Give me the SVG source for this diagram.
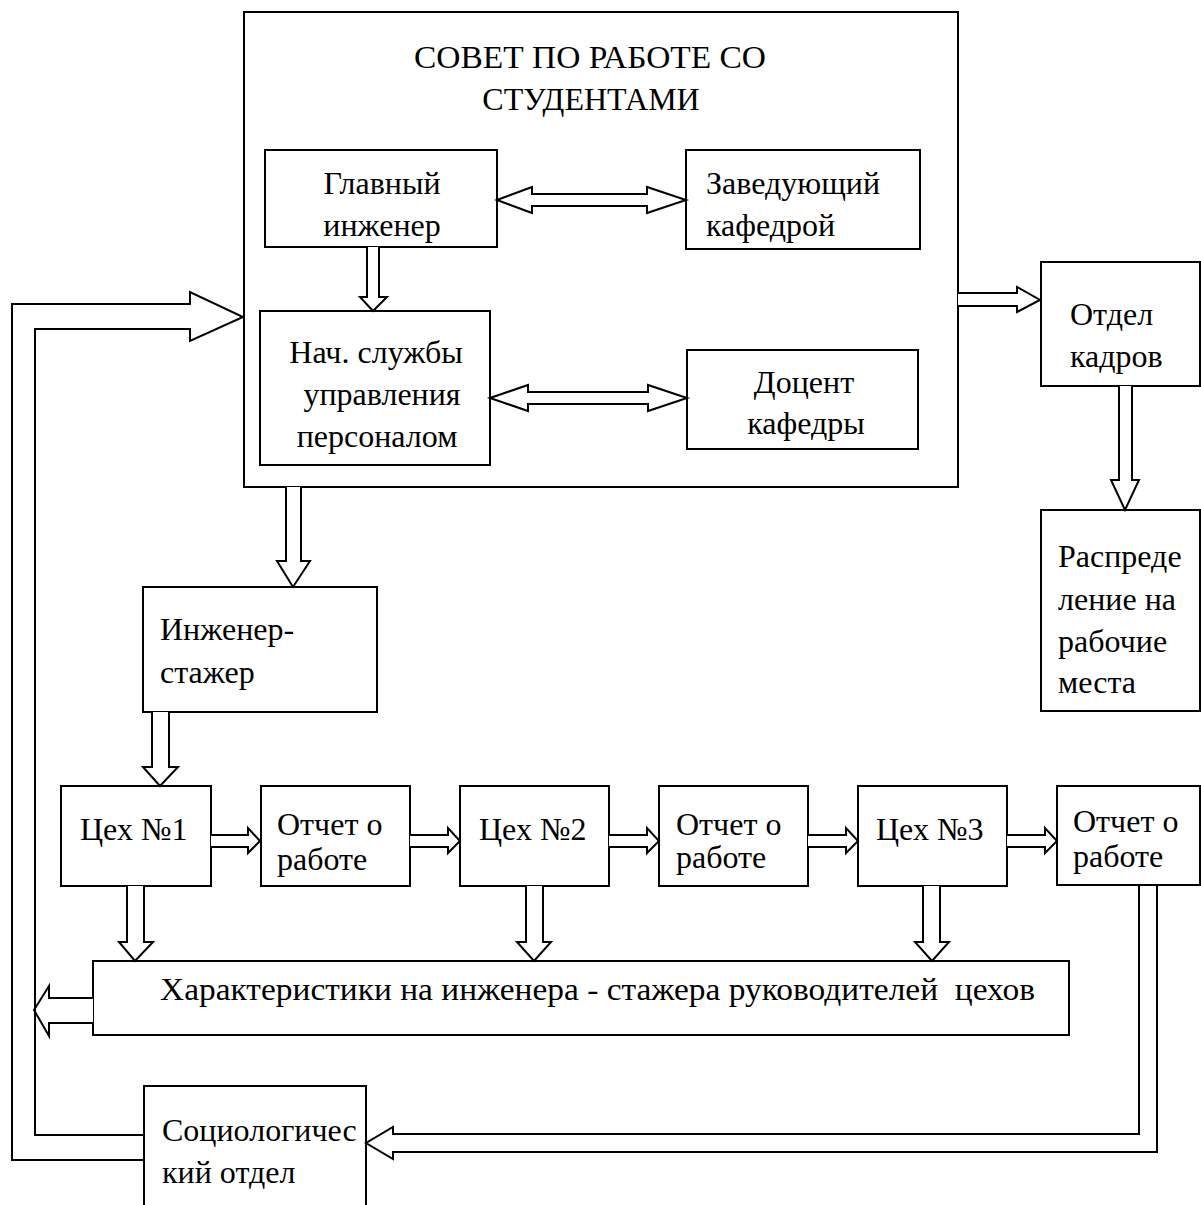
<svg xmlns="http://www.w3.org/2000/svg" width="1201" height="1205" viewBox="0 0 1201 1205">
  <style>
    .box { fill: #fff; stroke: #000; stroke-width: 2; }
    .arr { fill: #fff; stroke: #000; stroke-width: 2; stroke-linejoin: miter; }
    .ln { fill: none; stroke: #000; stroke-width: 2; }
    .t { font-family: 'Liberation Serif', Tinos, 'Noto Serif', 'DejaVu Serif', 'Times New Roman', Times, serif; font-size: 32px; fill: #000; }
    .c { text-anchor: middle; }
  </style>
  <rect width="1201" height="1205" fill="#fff"/>

  <!-- council block with nested members -->
  <g id="council">
    <rect class="box" x="244" y="12" width="714" height="475"/>
    <text class="t c" x="590" y="68" textLength="352" lengthAdjust="spacingAndGlyphs">СОВЕТ ПО РАБОТЕ СО</text>
    <text class="t c" x="591" y="110">СТУДЕНТАМИ</text>
  </g>
  <g id="chief-engineer">
    <rect class="box" x="265" y="150" width="232" height="97"/>
    <text class="t c" x="382" y="194">Главный</text>
    <text class="t c" x="382" y="236">инженер</text>
  </g>
  <g id="head-of-chair">
    <rect class="box" x="686" y="150" width="234" height="99"/>
    <text class="t" x="706" y="194">Заведующий</text>
    <text class="t" x="706" y="236">кафедрой</text>
  </g>
  <g id="hr-service">
    <rect class="box" x="260" y="311" width="230" height="154"/>
    <text class="t c" x="376" y="363">Нач. службы</text>
    <text class="t c" x="382" y="405">управления</text>
    <text class="t c" x="377" y="447">персоналом</text>
  </g>
  <g id="docent">
    <rect class="box" x="687" y="350" width="231" height="99"/>
    <text class="t c" x="804" y="393">Доцент</text>
    <text class="t c" x="806" y="434">кафедры</text>
  </g>

  <g id="personnel">
    <rect class="box" x="1041" y="262" width="159" height="124"/>
    <text class="t" x="1070" y="325">Отдел</text>
    <text class="t" x="1070" y="367">кадров</text>
  </g>
  <g id="placement">
    <rect class="box" x="1041" y="510" width="159" height="201"/>
    <text class="t" x="1058" y="567">Распреде</text>
    <text class="t" x="1058" y="610">ление на</text>
    <text class="t" x="1058" y="652">рабочие</text>
    <text class="t" x="1058" y="693">места</text>
  </g>

  <g id="trainee">
    <rect class="box" x="143" y="587" width="234" height="125"/>
    <text class="t" x="160" y="640">Инженер-</text>
    <text class="t" x="160" y="683">стажер</text>
  </g>

  <g id="shop-1">
    <rect class="box" x="61" y="786" width="150" height="100"/>
    <text class="t" x="80" y="840">Цех №1</text>
  </g>
  <g id="report-1">
    <rect class="box" x="261" y="786" width="149" height="100"/>
    <text class="t" x="277" y="835">Отчет о</text>
    <text class="t" x="277" y="870">работе</text>
  </g>
  <g id="shop-2">
    <rect class="box" x="460" y="786" width="149" height="100"/>
    <text class="t" x="479" y="840">Цех №2</text>
  </g>
  <g id="report-2">
    <rect class="box" x="659" y="786" width="149" height="100"/>
    <text class="t" x="676" y="835">Отчет о</text>
    <text class="t" x="676" y="868">работе</text>
  </g>
  <g id="shop-3">
    <rect class="box" x="858" y="786" width="149" height="100"/>
    <text class="t" x="876" y="840">Цех №3</text>
  </g>
  <g id="report-3">
    <rect class="box" x="1057" y="786" width="143" height="99"/>
    <text class="t" x="1073" y="832">Отчет о</text>
    <text class="t" x="1073" y="867">работе</text>
  </g>

  <g id="assessments">
    <rect class="box" x="93" y="961" width="976" height="74"/>
    <text class="t" x="160" y="1000" textLength="875" lengthAdjust="spacingAndGlyphs">Характеристики на инженера - стажера руководителей&#160; цехов</text>
  </g>

  <g id="sociology">
    <rect class="box" x="144" y="1086" width="222" height="130"/>
    <text class="t" x="162" y="1141">Социологичес</text>
    <text class="t" x="162" y="1183">кий отдел</text>
  </g>

  <!-- hollow block arrows -->
  <g id="connectors">
    <!-- council -> personnel department -->
    <path class="arr" d="M958,293 H1017 V287 L1040,300 L1017,312 V306 H958"/>
    <!-- personnel department -> placement -->
    <path class="arr" d="M1119,386 V480 H1111 L1125,510 L1139,480 H1132 V386"/>
    <!-- council -> trainee -->
    <path class="arr" d="M286,487 V561 H277 L293,587 L310,561 H301 V487"/>
    <!-- chief engineer -> HR service -->
    <path class="arr" d="M367,247 V297 H360 L373,311 L387,297 H379 V247"/>
    <!-- chief engineer <-> head of chair -->
    <path class="arr" d="M497,200 L532,187 V194 H647 V187 L686,200 L647,213 V206 H532 V213 Z"/>
    <!-- HR service <-> docent -->
    <path class="arr" d="M490,398 L528,385 V392 H648 V385 L687,398 L648,411 V404 H528 V411 Z"/>
    <!-- trainee -> shop 1 -->
    <path class="arr" d="M152,712 V767 H143 L160,786 L178,767 H169 V712"/>

    <!-- chain of shops and reports -->
    <path class="arr" d="M211,835 H248 V828 L260,841 L248,853 V847 H211"/>
    <path class="arr" d="M410,835 H448 V828 L460,841 L448,853 V847 H410"/>
    <path class="arr" d="M609,835 H647 V828 L659,841 L647,853 V847 H609"/>
    <path class="arr" d="M808,835 H846 V828 L858,841 L846,853 V847 H808"/>
    <path class="arr" d="M1007,835 H1045 V828 L1057,841 L1045,853 V847 H1007"/>

    <!-- shops -> assessments -->
    <path class="arr" d="M127,886 V942 H119 L135,961 L153,942 H144 V886"/>
    <path class="arr" d="M526,886 V942 H517 L534,961 L551,942 H543 V886"/>
    <path class="arr" d="M923,886 V942 H915 L932,961 L949,942 H940 V886"/>

    <!-- assessments -> feedback channel -->
    <path class="arr" d="M93,998 H49 V986 L34,1010 L49,1036 V1023 H93"/>

    <!-- last report -> sociology department -->
    <path class="ln" d="M1139,885 V1134 H393 V1127 L366,1143 L393,1159 V1152 H1157 V885"/>

    <!-- sociology department -> council (feedback loop) -->
    <path class="ln" d="M144,1160 H12 V304 H190 V292 L243,317 L190,341 V329 H35 V1135 H144"/>
  </g>
</svg>
